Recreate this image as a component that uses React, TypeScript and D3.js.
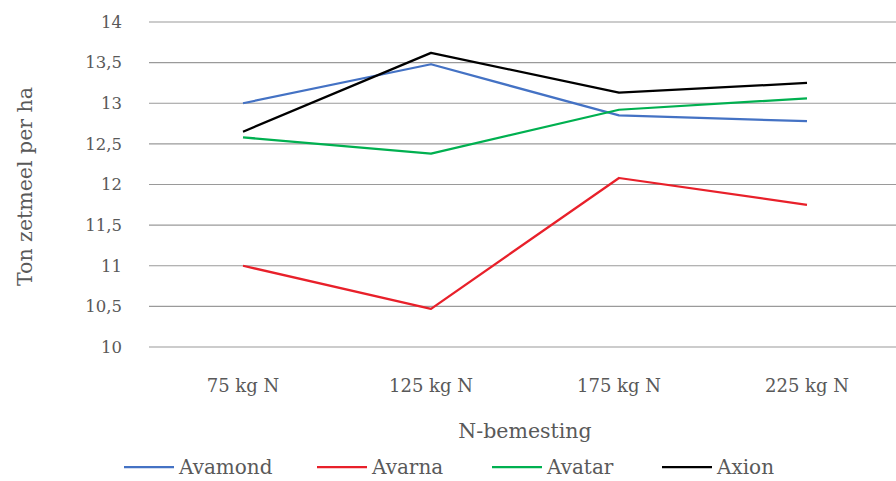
import React from "react";
import * as d3 from "d3";

const categories = ["75 kg N", "125 kg N", "175 kg N", "225 kg N"];
const avamond = [13.0, 13.48, 12.85, 12.78];
const avarna = [11.0, 10.47, 12.08, 11.75];
const avatar = [12.58, 12.38, 12.92, 13.06];
const axion = [12.65, 13.62, 13.13, 13.25];
const yTicks = [10, 10.5, 11, 11.5, 12, 12.5, 13, 13.5, 14];

const seriesNames = ["Avamond", "Avarna", "Avatar", "Axion"];
const seriesColors = ["#4472C4", "#E8202A", "#00B050", "#000000"];
const seriesValues = [avamond, avarna, avatar, axion];

const W = 896;
const H = 481;
const FONT = "'DejaVu Serif', serif";
const TEXT = "#595959";

export default function App() {
  const left = 149;
  const right = 901;
  const top = 22;
  const bottom = 347;
  const x = d3.scaleBand<string>().domain(categories).range([left, right]);
  const y = d3.scaleLinear().domain([10, 14]).range([bottom, top]);
  const line = d3
    .line<number>()
    .x((_, i) => (x(categories[i]) as number) + x.bandwidth() / 2)
    .y((d) => y(d));
  const fmt = (v: number) => String(v).replace(".", ",");
  const legendX = [124, 317, 492, 662];

  return (
    <svg
      width={W}
      height={H}
      style={{ position: "absolute", left: 0, top: 0, background: "#fff" }}
    >
      {yTicks.map((t) => (
        <g key={t}>
          <line x1={left} x2={W} y1={y(t)} y2={y(t)} stroke="#9A9A9A" strokeWidth={1.2} />
          <text
            x={122}
            y={y(t)}
            dy="0.35em"
            textAnchor="end"
            fontFamily={FONT}
            fontSize={16.5}
            fill={TEXT}
          >
            {fmt(t)}
          </text>
        </g>
      ))}
      {categories.map((c) => (
        <text
          key={c}
          x={(x(c) as number) + x.bandwidth() / 2}
          y={392}
          textAnchor="middle"
          fontFamily={FONT}
          fontSize={18}
          fill={TEXT}
        >
          {c}
        </text>
      ))}
      <text
        x={(left + right) / 2}
        y={438}
        textAnchor="middle"
        fontFamily={FONT}
        fontSize={20.5}
        fill={TEXT}
      >
        N-bemesting
      </text>
      <text
        transform={`translate(32,${(top + bottom) / 2 + 2}) rotate(-90)`}
        textAnchor="middle"
        fontFamily={FONT}
        fontSize={20.5}
        fill={TEXT}
      >
        Ton zetmeel per ha
      </text>
      {seriesValues.map((vals, i) => (
        <path
          key={seriesNames[i]}
          d={line(vals) || ""}
          fill="none"
          stroke={seriesColors[i]}
          strokeWidth={2.25}
          strokeLinejoin="round"
        />
      ))}
      {seriesNames.map((n, i) => (
        <g key={n}>
          <line
            x1={legendX[i]}
            x2={legendX[i] + 50}
            y1={467}
            y2={467}
            stroke={seriesColors[i]}
            strokeWidth={2.25}
          />
          <text
            x={legendX[i] + 55}
            y={467}
            dy="0.35em"
            fontFamily={FONT}
            fontSize={20}
            fill={TEXT}
          >
            {n}
          </text>
        </g>
      ))}
    </svg>
  );
}
